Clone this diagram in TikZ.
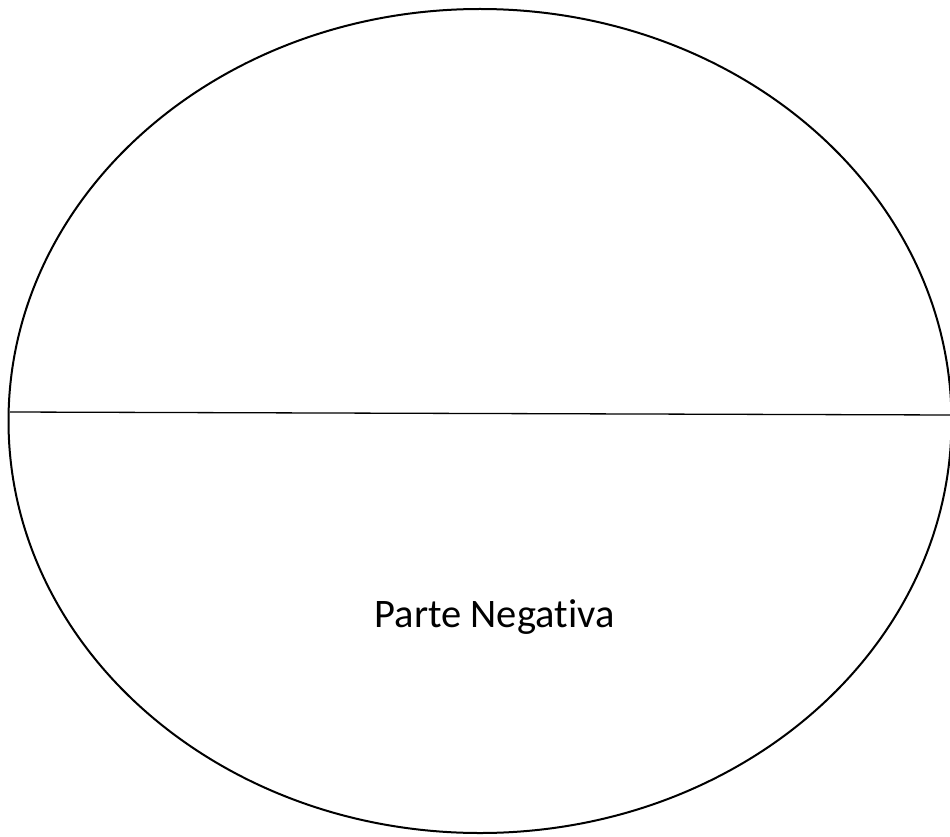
\documentclass[tikz,border=0pt]{standalone}
\usepackage{fontspec}
\setmainfont[Ligatures={NoCommon}]{Carlito}
\usetikzlibrary{shapes.geometric}
\begin{document}
\begin{tikzpicture}[x=1pt,y=-1pt,
  oval/.style={draw=black, line width=2pt, ellipse, inner sep=0pt},
  divider/.style={draw=black, line width=1.3pt},
  label/.style={font=\fontsize{40.5}{48}\selectfont, inner sep=0pt, anchor=base}]
\useasboundingbox (0,0) rectangle (950,837);
\clip (0,0) rectangle (950,837);
\node[oval, minimum width=943pt, minimum height=824pt] (e) at (480,421) {};
\coordinate (l) at (10,412);
\coordinate (r) at (952,415);
\draw[divider] (l) -- (r);
\node[label] (t) at (494.5,627) {Parte Negativa};
\end{tikzpicture}
\end{document}
